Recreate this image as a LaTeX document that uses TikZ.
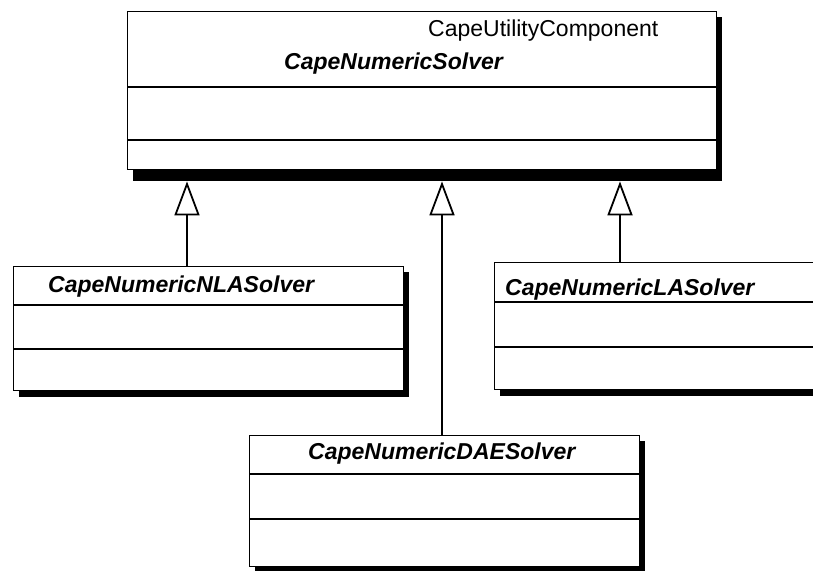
\documentclass[tikz,border=0pt]{standalone}
\usepackage{fontspec}
\setmainfont{Liberation Sans}
\usetikzlibrary{arrows.meta}

\tikzset{
  classbox/.style={draw=black, line width=1.4pt, fill=white, inner sep=0pt, anchor=north west},
  shadowbox/.style={fill=black, inner sep=0pt, anchor=north west},
  divider/.style={line width=2.2pt},
  inherit/.style={line width=2.2pt, -{Triangle[open, width=25pt, length=34pt, line width=1.8pt]}},
  classname/.style={font=\fontsize{23}{27}\selectfont\bfseries\itshape, anchor=base west, inner sep=0pt},
  stereo/.style={font=\fontsize{23}{27}\selectfont, anchor=base west, inner sep=0pt},
}

\begin{document}
\begin{tikzpicture}[x=1pt, y=-1pt]
  \useasboundingbox (0,0) rectangle (813,570);
  \clip (0,0) rectangle (813,570);

  % CapeNumericSolver (base class)
  \node[shadowbox, minimum width=589pt, minimum height=164pt] (topsh) at (133,17) {};
  \node[classbox, minimum width=589pt, minimum height=158pt] (top) at (127,11) {};
  \draw[divider] (top.west |- 0,87) -- (top.east |- 0,87);
  \draw[divider] (top.west |- 0,140) -- (top.east |- 0,140);
  \node[stereo] (topstereo) at (428,36) {CapeUtilityComponent};
  \node[classname] (topname) at (284,69) {CapeNumericSolver};

  % CapeNumericNLASolver
  \node[shadowbox, minimum width=390pt, minimum height=125pt] (nlash) at (19,272) {};
  \node[classbox, minimum width=390pt, minimum height=124pt] (nla) at (13,266) {};
  \draw[divider] (nla.west |- 0,305) -- (nla.east |- 0,305);
  \draw[divider] (nla.west |- 0,349) -- (nla.east |- 0,349);
  \node[classname] (nlaname) at (48,292) {CapeNumericNLASolver};

  % CapeNumericLASolver
  \node[shadowbox, minimum width=340pt, minimum height=128pt] (lash) at (500,268) {};
  \node[classbox, minimum width=340pt, minimum height=127pt] (la) at (494,262) {};
  \draw[divider] (la.west |- 0,302) -- (la.east |- 0,302);
  \draw[divider] (la.west |- 0,347) -- (la.east |- 0,347);
  \node[classname] (laname) at (505,295) {CapeNumericLASolver};

  % CapeNumericDAESolver
  \node[shadowbox, minimum width=390pt, minimum height=132pt] (daesh) at (255,441) {};
  \node[classbox, minimum width=390pt, minimum height=131pt] (dae) at (249,435) {};
  \draw[divider] (dae.west |- 0,474) -- (dae.east |- 0,474);
  \draw[divider] (dae.west |- 0,519) -- (dae.east |- 0,519);
  \node[classname] (daename) at (308,459) {CapeNumericDAESolver};

  % generalisation connectors
  \coordinate (xnla) at (187,0);
  \coordinate (xdae) at (442,0);
  \coordinate (xla) at (620,0);
  \draw[inherit] (xnla |- nla.north) -- (xnla |- topsh.south);
  \draw[inherit] (xdae |- dae.north) -- (xdae |- topsh.south);
  \draw[inherit] (xla |- la.north) -- (xla |- topsh.south);
\end{tikzpicture}
\end{document}
